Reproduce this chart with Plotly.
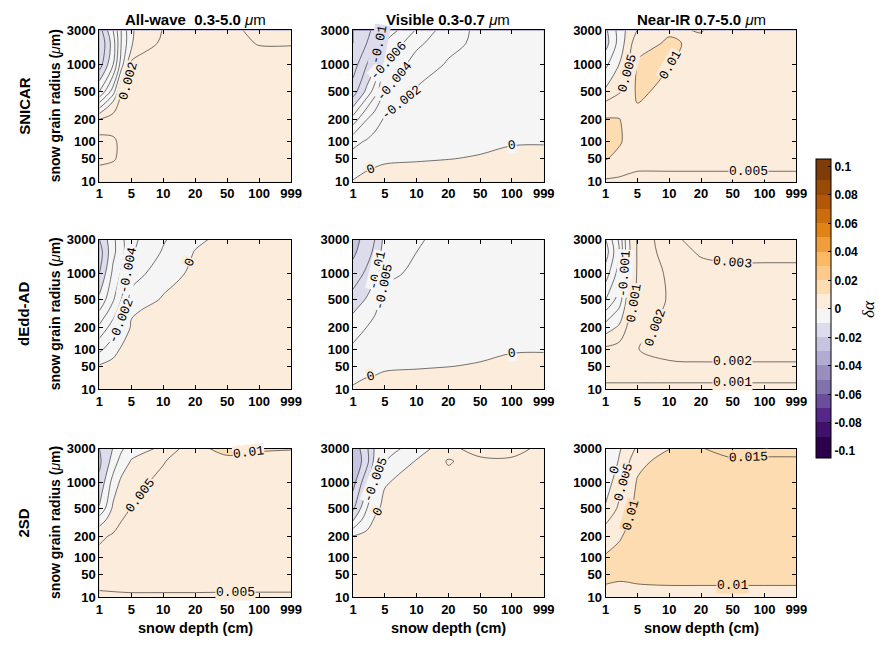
import numpy as np
import plotly.graph_objects as go
from collections import Counter

# ---------------- categories / ticks ----------------
depth_ticks = [1, 5, 10, 20, 50, 100, 999]
depth_tick_labels = ['1', '5', '10', '20', '50', '100', '999']
radius_ticks = [10, 50, 100, 200, 500, 1000, 3000]
radius_tick_labels = ['10', '50', '100', '200', '500', '1000', '3000']
# axis layout of the radius scale (fraction of axis height for each tick)
radius_tick_frac = [0.0, 0.153, 0.267, 0.410, 0.597, 0.773, 1.0]

depths = [1, 2, 3, 5, 10, 20, 50, 100, 999]          # columns
radii = [10, 20, 50, 100, 200, 350, 500, 1000, 2000, 3000]  # rows

col_titles = ['<b>All-wave\u00a0\u00a00.3-5.0 </b><i>μ</i>m',
              '<b>Visible 0.3-0.7 </b><i>μ</i>m',
              '<b>Near-IR 0.7-5.0 </b><i>μ</i>m']
row_titles = ['SNICAR', 'dEdd-AD', '2SD']

# ---------------- data (delta albedo), rows = radii, cols = depths ----------------
snicar_all = [
    [0.0030, 0.0030, 0.0030, 0.0030, 0.0030, 0.0030, 0.0030, 0.0030, 0.0030],
    [0.0035, 0.0033, 0.0030, 0.0030, 0.0030, 0.0030, 0.0030, 0.0030, 0.0030],
    [0.0045, 0.0042, 0.0036, 0.0031, 0.0030, 0.0030, 0.0030, 0.0030, 0.0030],
    [0.0048, 0.0043, 0.0036, 0.0031, 0.0030, 0.0030, 0.0030, 0.0030, 0.0030],
    [0.0022, 0.0030, 0.0031, 0.0030, 0.0030, 0.0030, 0.0030, 0.0030, 0.0030],
    [-0.0040, 0.0003, 0.0028, 0.0030, 0.0030, 0.0030, 0.0030, 0.0030, 0.0030],
    [-0.0080, -0.0030, 0.0021, 0.0030, 0.0030, 0.0030, 0.0030, 0.0030, 0.0031],
    [-0.0130, -0.0080, -0.0030, 0.0025, 0.0030, 0.0030, 0.0031, 0.0032, 0.0033],
    [-0.0140, -0.0090, -0.0040, -0.0002, 0.0025, 0.0030, 0.0034, 0.0041, 0.0041],
    [-0.0130, -0.0080, -0.0040, -0.0002, 0.0021, 0.0028, 0.0037, 0.0043, 0.0045],
]
snicar_vis = [
    [0.0001, 0.0005, 0.0006, 0.0007, 0.0008, 0.0008, 0.0009, 0.0010, 0.0010],
    [-0.0004, 0.00005, 0.0002, 0.0003, 0.0005, 0.0005, 0.0007, 0.0008, 0.0008],
    [-0.0012, -0.0007, -0.0004, -0.0002, -0.00015, -0.00003, 0.0001, 0.0003, 0.0004],
    [-0.0026, -0.0018, -0.0012, -0.0007, -0.0005, -0.0004, -0.0003, -0.0001, -0.0001],
    [-0.0070, -0.0040, -0.0030, -0.0017, -0.0009, -0.0008, -0.0006, -0.0004, -0.0004],
    [-0.0110, -0.0070, -0.0050, -0.0028, -0.0013, -0.0010, -0.0008, -0.0006, -0.0006],
    [-0.0130, -0.0095, -0.0070, -0.0040, -0.0018, -0.0012, -0.0010, -0.0008, -0.0007],
    [-0.0150, -0.0120, -0.0105, -0.0060, -0.0030, -0.0018, -0.0013, -0.0011, -0.0010],
    [-0.0160, -0.0140, -0.0120, -0.0080, -0.0045, -0.0025, -0.0016, -0.0013, -0.0012],
    [-0.0160, -0.0150, -0.0130, -0.0095, -0.0058, -0.0028, -0.0016, -0.0015, -0.0014],
]
snicar_nir = [
    [0.0040, 0.0040, 0.0040, 0.0040, 0.0040, 0.0040, 0.0040, 0.0040, 0.0040],
    [0.0073, 0.0060, 0.0053, 0.0049, 0.0049, 0.0049, 0.0049, 0.0049, 0.0049],
    [0.0102, 0.0090, 0.0080, 0.0070, 0.0070, 0.0070, 0.0070, 0.0070, 0.0070],
    [0.0115, 0.0104, 0.0092, 0.0075, 0.0070, 0.0070, 0.0070, 0.0070, 0.0070],
    [0.0105, 0.0102, 0.0085, 0.0085, 0.0072, 0.0070, 0.0070, 0.0070, 0.0070],
    [0.0055, 0.0075, 0.0075, 0.0101, 0.0080, 0.0072, 0.0070, 0.0070, 0.0070],
    [0.0010, 0.0045, 0.0072, 0.0108, 0.0088, 0.0075, 0.0070, 0.0070, 0.0070],
    [-0.0060, 0.0002, 0.0040, 0.0105, 0.0101, 0.0082, 0.0072, 0.0070, 0.0070],
    [-0.0120, -0.0030, 0.0020, 0.0085, 0.0105, 0.0092, 0.0075, 0.0070, 0.0070],
    [-0.0110, -0.0030, 0.0010, 0.0052, 0.0095, 0.0102, 0.0075, 0.0070, 0.0070],
]
dedd_all = [
    [0.0010, 0.0010, 0.0010, 0.0010, 0.0010, 0.0010, 0.0010, 0.0010, 0.0010],
    [0.0008, 0.0009, 0.0010, 0.0010, 0.0010, 0.0010, 0.0010, 0.0010, 0.0010],
    [0.0002, 0.0007, 0.0009, 0.0010, 0.0010, 0.0010, 0.0010, 0.0010, 0.0010],
    [-0.0025, -0.0008, 0.0002, 0.0006, 0.0010, 0.0010, 0.0010, 0.0010, 0.0010],
    [-0.0055, -0.0030, -0.0015, 0.0002, 0.0008, 0.0010, 0.0010, 0.0010, 0.0010],
    [-0.0080, -0.0050, -0.0030, -0.0002, 0.0005, 0.0010, 0.0010, 0.0010, 0.0010],
    [-0.0095, -0.0062, -0.0040, -0.0012, 0.0002, 0.0008, 0.0010, 0.0010, 0.0010],
    [-0.0120, -0.0075, -0.0058, -0.0030, -0.0008, 0.0004, 0.0010, 0.0010, 0.0010],
    [-0.0130, -0.0085, -0.0068, -0.0042, -0.0018, 0.0001, 0.0009, 0.0010, 0.0010],
    [-0.0120, -0.0085, -0.0066, -0.0045, -0.0022, -0.0004, 0.0006, 0.0010, 0.0010],
]
dedd_vis = [
    [0.0002, 0.0005, 0.0006, 0.0007, 0.0008, 0.0008, 0.0009, 0.0010, 0.0010],
    [-0.0003, 0.0001, 0.0002, 0.0003, 0.0005, 0.0005, 0.0007, 0.0008, 0.0008],
    [-0.0015, -0.0008, -0.0005, -0.0002, -0.00015, -0.00003, 0.0001, 0.0003, 0.0004],
    [-0.0040, -0.0025, -0.0018, -0.0012, -0.0007, -0.0005, -0.0003, -0.0001, -0.0001],
    [-0.0075, -0.0049, -0.0038, -0.0020, -0.0014, -0.0010, -0.0007, -0.0005, -0.0004],
    [-0.0105, -0.0075, -0.0055, -0.0030, -0.0020, -0.0013, -0.0009, -0.0007, -0.0006],
    [-0.0130, -0.0095, -0.0072, -0.0038, -0.0026, -0.0016, -0.0011, -0.0009, -0.0008],
    [-0.0180, -0.0140, -0.0110, -0.0060, -0.0042, -0.0024, -0.0015, -0.0012, -0.0011],
    [-0.0210, -0.0170, -0.0140, -0.0075, -0.0050, -0.0032, -0.0018, -0.0014, -0.0013],
    [-0.0220, -0.0180, -0.0150, -0.0085, -0.0055, -0.0036, -0.0020, -0.0015, -0.0014],
]
dedd_nir = [
    [0.0005, 0.0005, 0.0005, 0.0005, 0.0005, 0.0005, 0.0005, 0.0005, 0.0005],
    [0.0013, 0.0013, 0.0013, 0.0013, 0.0013, 0.0013, 0.0013, 0.0013, 0.0013],
    [0.0016, 0.0016, 0.0017, 0.0018, 0.0019, 0.0019, 0.0019, 0.0019, 0.0019],
    [0.0012, 0.0014, 0.0016, 0.00199, 0.0022, 0.0023, 0.0023, 0.0023, 0.0023],
    [-0.0005, 0.0002, 0.0011, 0.0016, 0.0023, 0.0025, 0.0025, 0.0025, 0.0025],
    [-0.0020, -0.0008, 0.0006, 0.0013, 0.0022, 0.0026, 0.0026, 0.0026, 0.0026],
    [-0.0030, -0.0015, 0.0003, 0.0012, 0.0021, 0.0026, 0.0027, 0.0027, 0.0027],
    [-0.0045, -0.0025, -0.0002, 0.0011, 0.0022, 0.0027, 0.0028, 0.0028, 0.0028],
    [-0.0055, -0.0030, -0.0004, 0.0011, 0.0026, 0.0031, 0.0032, 0.0032, 0.0032],
    [-0.0050, -0.0028, -0.0003, 0.0011, 0.0028, 0.0033, 0.0035, 0.0035, 0.0035],
]
twosd_all = [
    [0.0040, 0.0040, 0.0040, 0.0040, 0.0040, 0.0040, 0.0040, 0.0040, 0.0040],
    [0.0055, 0.0058, 0.0060, 0.0062, 0.0062, 0.0062, 0.0060, 0.0060, 0.0060],
    [0.0065, 0.0068, 0.0070, 0.0070, 0.0070, 0.0070, 0.0070, 0.0070, 0.0070],
    [0.0062, 0.0068, 0.0070, 0.0070, 0.0070, 0.0070, 0.0070, 0.0070, 0.0070],
    [0.0042, 0.0055, 0.0062, 0.0068, 0.0070, 0.0070, 0.0070, 0.0070, 0.0070],
    [-0.0030, 0.0028, 0.0048, 0.0060, 0.0070, 0.0070, 0.0070, 0.0070, 0.0070],
    [-0.0095, 0.0010, 0.0035, 0.0052, 0.0068, 0.0070, 0.0070, 0.0070, 0.0070],
    [-0.0140, -0.0030, 0.0010, 0.0035, 0.0062, 0.0070, 0.0072, 0.0072, 0.0072],
    [-0.0160, -0.0080, -0.0030, 0.0003, 0.0047, 0.0080, 0.0090, 0.0085, 0.0085],
    [-0.0150, -0.0098, -0.0060, -0.0020, 0.0008, 0.0090, 0.0112, 0.0105, 0.0102],
]
twosd_vis = [
    [0.0020, 0.0020, 0.0020, 0.0020, 0.0020, 0.0020, 0.0020, 0.0020, 0.0020],
    [0.0020, 0.0020, 0.0020, 0.0020, 0.0020, 0.0020, 0.0020, 0.0020, 0.0020],
    [0.0020, 0.0020, 0.0020, 0.0020, 0.0020, 0.0020, 0.0020, 0.0020, 0.0020],
    [0.0015, 0.0018, 0.0020, 0.0020, 0.0020, 0.0020, 0.0020, 0.0020, 0.0020],
    [0.0001, 0.0010, 0.0015, 0.0020, 0.0020, 0.0020, 0.0020, 0.0020, 0.0020],
    [-0.0110, -0.0020, 0.0003, 0.0015, 0.0020, 0.0020, 0.0020, 0.0020, 0.0020],
    [-0.0160, -0.0052, -0.0010, 0.0010, 0.0020, 0.0020, 0.0020, 0.0020, 0.0020],
    [-0.0220, -0.0110, -0.0050, -0.0003, 0.0015, 0.0035, 0.0020, 0.0020, 0.0020],
    [-0.0250, -0.0170, -0.0085, -0.0052, 0.0003, 0.0054, 0.0030, 0.0032, 0.0030],
    [-0.0240, -0.0160, -0.0095, -0.0080, -0.0020, 0.0025, 0.0090, 0.0090, 0.0020],
]
twosd_nir = [
    [0.0052, 0.0055, 0.0055, 0.0060, 0.0060, 0.0060, 0.0060, 0.0060, 0.0060],
    [0.0097, 0.0090, 0.0090, 0.0093, 0.0095, 0.0095, 0.0095, 0.0095, 0.0095],
    [0.0110, 0.0112, 0.0115, 0.0120, 0.0130, 0.0130, 0.0130, 0.0130, 0.0130],
    [0.0105, 0.0115, 0.0120, 0.0125, 0.0130, 0.0130, 0.0130, 0.0130, 0.0130],
    [0.0075, 0.0095, 0.0108, 0.0125, 0.0130, 0.0130, 0.0130, 0.0130, 0.0130],
    [0.0040, 0.0075, 0.0095, 0.0120, 0.0130, 0.0130, 0.0130, 0.0130, 0.0130],
    [0.0008, 0.0060, 0.0085, 0.0115, 0.0130, 0.0130, 0.0130, 0.0130, 0.0130],
    [-0.0030, 0.0035, 0.0065, 0.0105, 0.0130, 0.0132, 0.0132, 0.0132, 0.0132],
    [-0.0048, 0.0005, 0.0040, 0.0085, 0.0120, 0.0140, 0.0145, 0.0145, 0.0145],
    [-0.0045, -0.0005, 0.0020, 0.0060, 0.0098, 0.0148, 0.0165, 0.0160, 0.0160],
]

# contour lines per panel: (data, step, lowest, highest)
panels = [
    (snicar_all, 0.002, -0.014, 0.004),
    (snicar_vis, 0.002, -0.016, 0.0),
    (snicar_nir, 0.005, -0.01, 0.01),
    (dedd_all, 0.002, -0.012, 0.0),
    (dedd_vis, 0.005, -0.02, 0.0),
    (dedd_nir, 0.001, -0.005, 0.003),
    (twosd_all, 0.005, -0.015, 0.01),
    (twosd_vis, 0.005, -0.025, 0.005),
    (twosd_nir, 0.005, -0.005, 0.015),
]
# contour labels: (level, search along radius 'r' row or depth 'd' column, at value, which crossing)
contour_labels = [
    [(0.002, 'r', 650, 'first')],
    [(-0.002, 'r', 350, 'first'), (-0.004, 'r', 650, 'first'), (-0.006, 'r', 1150, 'first'),
     (-0.01, 'r', 1900, 'first'), (0.0, 'd', 100, 'first'), (0.0, 'd', 2.5, 'first')],
    [(0.005, 'r', 800, 'first'), (0.01, 'r', 1000, 'last'), (0.005, 'd', 70, 'first')],
    [(0.0, 'd', 18, 'first'), (-0.002, 'r', 250, 'first'), (-0.004, 'r', 1100, 'first')],
    [(-0.01, 'r', 1100, 'first'), (-0.005, 'r', 700, 'first'), (0.0, 'd', 100, 'first'),
     (0.0, 'd', 2.5, 'first')],
    [(0.003, 'd', 50, 'first'), (0.002, 'd', 50, 'first'), (0.001, 'd', 50, 'first'),
     (-0.001, 'r', 1000, 'first'), (0.001, 'r', 450, 'first'), (0.002, 'r', 200, 'first')],
    [(0.005, 'r', 700, 'first'), (0.01, 'd', 80, 'first'), (0.005, 'd', 60, 'first')],
    [(-0.005, 'r', 1100, 'first'), (0.0, 'r', 450, 'first')],
    [(0.015, 'd', 70, 'first'), (0.01, 'd', 50, 'first'), (0.005, 'r', 1000, 'first'),
     (0.01, 'r', 400, 'first'), (0.0, 'r', 1500, 'first')],
]

# colour bins from -0.1 to 0.1 (width 0.01)
bin_colors = ['#2d004b', '#40106a', '#542788', '#6a4d9b', '#8073ac', '#998fbf',
              '#b2abd2', '#c6c4e0', '#dcdcec', '#f5f5f5',
              '#fcecdb', '#fddcb2', '#fdca8b', '#fdb863', '#f09d3c', '#e08214',
              '#ca6d0d', '#b35806', '#994a07', '#7f3b08']
cbar_ticks = [-0.1, -0.08, -0.06, -0.04, -0.02, 0, 0.02, 0.04, 0.06, 0.08, 0.1]
cbar_ticktext = ['-0.1', '-0.08', '-0.06', '-0.04', '-0.02', '0', '0.02', '0.04', '0.06', '0.08', '0.1']

# ---------------- layout geometry (pixels) ----------------
W, H = 889, 650
col_px = [(97, 292), (355, 549), (612, 806)]
row_px = [(24, 179), (238, 391), (452, 604)]
FONT = 'Liberation Sans, Arial, sans-serif'
MONO = 'Liberation Mono, Courier New, monospace'
LABEL_SIZE = 13
PX_X = 195 / 6.0
PX_Y = 154.0


def xpos(d):
    return np.interp(np.log10(d), np.log10(depth_ticks), np.arange(len(depth_ticks)))


def ypos(r):
    return np.interp(np.log10(r), np.log10(radius_ticks), radius_tick_frac)


xg = xpos(np.array(depths, dtype=float))
yg = ypos(np.array(radii, dtype=float))


def field(zarr, x, y):
    x = np.clip(np.atleast_1d(np.asarray(x, dtype=float)), xg[0], xg[-1])
    y = np.clip(np.atleast_1d(np.asarray(y, dtype=float)), yg[0], yg[-1])
    i = np.clip(np.searchsorted(xg, x) - 1, 0, len(xg) - 2)
    j = np.clip(np.searchsorted(yg, y) - 1, 0, len(yg) - 2)
    tx = (x - xg[i]) / (xg[i + 1] - xg[i])
    ty = (y - yg[j]) / (yg[j + 1] - yg[j])
    return (zarr[j, i] * (1 - tx) * (1 - ty) + zarr[j, i + 1] * tx * (1 - ty)
            + zarr[j + 1, i] * (1 - tx) * ty + zarr[j + 1, i + 1] * tx * ty)


def label_point(zarr, level, mode, val, side):
    if mode == 'r':
        xs = np.linspace(0, 6, 2401)
        ys = np.full_like(xs, float(ypos(val)))
    else:
        ys = np.linspace(0, 1, 2401)
        xs = np.full_like(ys, float(xpos(val)))
    f = field(zarr, xs, ys) - level
    idx = np.where(np.sign(f[:-1]) != np.sign(f[1:]))[0]
    if len(idx) == 0:
        return None
    k = idx[0] if side == 'first' else idx[-1]
    t = f[k] / (f[k] - f[k + 1])
    x = xs[k] + t * (xs[k + 1] - xs[k])
    y = ys[k] + t * (ys[k + 1] - ys[k])
    h = 1e-3
    gx = (field(zarr, x + h, y) - field(zarr, x - h, y))[0] / (2 * h) / PX_X
    gy = (field(zarr, x, y + h) - field(zarr, x, y - h))[0] / (2 * h) / PX_Y
    ang = np.degrees(np.arctan2(gx, -gy))
    while ang > 90:
        ang -= 180
    while ang <= -90:
        ang += 180
    return x, y, -ang


def fmt(level):
    if abs(level) < 1e-12:
        return '0'
    return ('%.3f' % level).rstrip('0')


def bin_index(v):
    idx = np.floor((np.asarray(v) + 0.1) / 0.01 + 1e-9).astype(int)
    return np.clip(idx, 0, len(bin_colors) - 1)


def label_bg(zarr, x, y, angle, text):
    # colour of the fill that is most common under the label box
    half_w = len(text) * 0.6 * LABEL_SIZE / 2
    a = np.radians(-angle)
    us = np.linspace(-half_w, half_w, 11)
    vs = np.linspace(-6, 6, 7)
    U, V = np.meshgrid(us, vs)
    dx = U * np.cos(a) - V * np.sin(a)
    dy = U * np.sin(a) + V * np.cos(a)
    vals = field(zarr, (x + dx / PX_X).ravel(), (y + dy / PX_Y).ravel())
    common = Counter(bin_index(vals).tolist()).most_common(1)[0][0]
    return bin_colors[common]


cscale = []
n = len(bin_colors)
for i, c in enumerate(bin_colors):
    cscale.append([i / n, c])
    cscale.append([(i + 1) / n, c])

EPS = 1e-7
fig = go.Figure()
layout = dict(width=W, height=H, margin=dict(l=0, r=0, t=0, b=0),
              paper_bgcolor='white', plot_bgcolor='white', showlegend=False,
              font=dict(family=FONT, color='black'))
annotations = []

for k, (z, step, lo, hi) in enumerate(panels):
    i, j = divmod(k, 3)
    sfx = '' if k == 0 else str(k + 1)
    xa, ya = 'x' + sfx, 'y' + sfx
    zarr = np.array(z, dtype=float)

    fig.add_trace(go.Contour(
        x=xg, y=yg, z=zarr, xaxis=xa, yaxis=ya,
        autocontour=False,
        contours=dict(start=-0.1, end=0.1, size=0.01, coloring='fill', showlines=False),
        colorscale=cscale, line=dict(width=0),
        hoverinfo='skip', showscale=(k == 0),
        colorbar=dict(x=826 / W, xanchor='left', y=1 - 309 / H, yanchor='middle',
                      len=306 / H, lenmode='fraction', thickness=15, xpad=0, ypad=0,
                      outlinecolor='black', outlinewidth=1,
                      tickmode='array', tickvals=cbar_ticks, ticktext=cbar_ticktext,
                      ticks='inside', ticklen=3, tickcolor='black',
                      tickfont=dict(family=FONT, size=12, color='black', weight='bold')),
    ))

    levels = np.round(np.arange(lo, hi + step / 2, step), 4)
    for lv in levels:
        fig.add_trace(go.Contour(
            x=xg, y=yg, z=zarr, xaxis=xa, yaxis=ya,
            autocontour=False,
            contours=dict(start=lv + EPS, end=lv + EPS, size=0.001, coloring='none',
                          showlabels=False),
            line=dict(color='#1a1a1a', width=0.6),
            showscale=False, hoverinfo='skip',
        ))

    for (lv, mode, val, side) in contour_labels[k]:
        pt = label_point(zarr, lv, mode, val, side)
        if pt is None:
            continue
        lx, ly, la = pt
        txt = fmt(lv)
        annotations.append(dict(text=txt, x=lx, y=ly, xref=xa, yref=ya, showarrow=False,
                                xanchor='center', yanchor='middle', textangle=la,
                                bgcolor=label_bg(zarr, lx, ly, la, txt), borderpad=0,
                                font=dict(family=MONO, size=LABEL_SIZE, color='black')))

    x0, x1 = col_px[j]
    y0, y1 = row_px[i]
    common = dict(showline=True, linecolor='black', linewidth=1, mirror='ticks',
                  ticks='inside', ticklen=4, tickwidth=1, tickcolor='black',
                  showgrid=False, zeroline=False, fixedrange=True,
                  tickfont=dict(family=FONT, size=13, color='black', weight='bold'))
    layout['xaxis' + sfx] = dict(domain=[x0 / W, x1 / W], anchor=ya, range=[0, len(depth_ticks) - 1],
                                 tickmode='array', tickvals=list(range(len(depth_ticks))),
                                 ticktext=depth_tick_labels, **common)
    layout['yaxis' + sfx] = dict(domain=[1 - y1 / H, 1 - y0 / H], anchor=xa, range=[0, 1],
                                 tickmode='array', tickvals=list(ypos(np.array(radius_ticks, dtype=float))),
                                 ticktext=radius_tick_labels, **common)

# titles and labels
for j in range(3):
    xc = (col_px[j][0] + col_px[j][1]) / 2 / W
    annotations.append(dict(text=col_titles[j], x=xc, y=1 - 13 / H, xref='paper', yref='paper',
                            showarrow=False, xanchor='center', yanchor='middle',
                            font=dict(family=FONT, size=15, color='black')))
    annotations.append(dict(text='<b>snow depth (cm)</b>', x=xc, y=1 - 636 / H, xref='paper', yref='paper',
                            showarrow=False, xanchor='center', yanchor='middle',
                            font=dict(family=FONT, size=14.5, color='black')))
for i in range(3):
    yc = 1 - (row_px[i][0] + row_px[i][1]) / 2 / H
    annotations.append(dict(text='<b>' + row_titles[i] + '</b>', x=20 / W, y=yc, xref='paper', yref='paper',
                            showarrow=False, xanchor='center', yanchor='middle', textangle=-90,
                            font=dict(family=FONT, size=15, color='black')))
    annotations.append(dict(text='<b>snow grain radius (</b><i>μ</i><b>m)</b>', x=52 / W, y=yc,
                            xref='paper', yref='paper', showarrow=False, xanchor='center',
                            yanchor='middle', textangle=-90,
                            font=dict(family=FONT, size=14, color='black')))
annotations.append(dict(text='<i>δα</i>', x=880 / W, y=1 - 309 / H, xref='paper', yref='paper',
                        showarrow=False, xanchor='center', yanchor='middle', textangle=-90,
                        font=dict(family='Liberation Serif, Times New Roman, serif', size=17, color='black')))

layout['annotations'] = annotations
fig.update_layout(**layout)
fig.write_html('out.html')
